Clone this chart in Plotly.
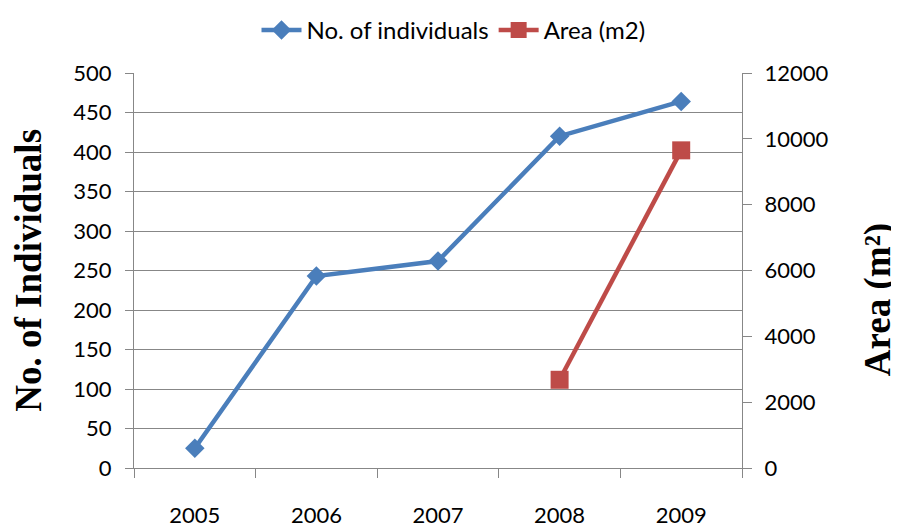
import plotly.graph_objects as go

years = ["2005", "2006", "2007", "2008", "2009"]
individuals = [25, 243, 262, 420, 464]
area_years = ["2008", "2009"]
area_m2 = [2680, 9650]

left_ticks = list(range(0, 501, 50))
right_ticks = list(range(0, 12001, 2000))
right_labels = [str(v) for v in right_ticks]

blue = "#4A7EBB"
red = "#BE4B48"
grid = "#878787"

fig = go.Figure()
fig.add_trace(go.Scatter(
    x=years, y=individuals, name="No. of individuals", mode="lines+markers",
    line=dict(color=blue, width=4.5),
    marker=dict(symbol="diamond", size=15, color=blue),
    yaxis="y",
))
fig.add_trace(go.Scatter(
    x=area_years, y=area_m2, name="Area (m2)", mode="lines+markers",
    line=dict(color=red, width=4.5),
    marker=dict(symbol="square", size=18, color=red),
    yaxis="y2",
))

fontfam = "Lato, 'Open Sans', sans-serif"
tickfont = dict(family=fontfam, size=22, color="#000000")
serif = "'Liberation Serif', 'Times New Roman', serif"

fig.update_layout(
    width=891, height=523,
    margin=dict(l=126, r=157, t=65, b=63, autoexpand=False),
    paper_bgcolor="white", plot_bgcolor="white",
    showlegend=True,
    legend=dict(orientation="h", x=0.5, xanchor="center", xref="container",
                y=1.0, yanchor="top", yref="container",
                font=dict(family=fontfam, size=24, color="#000"),
                itemwidth=40, traceorder="normal"),
    xaxis=dict(
        type="category", categoryorder="array", categoryarray=years,
        range=[-0.5, 4.5], showgrid=False,
        showline=True, linecolor=grid, linewidth=1,
        ticks="outside", tickson="boundaries", ticklen=9, tickcolor=grid,
        tickfont=tickfont, ticklabelstandoff=28,
    ),
    yaxis=dict(
        range=[0, 500], tickvals=left_ticks, showgrid=True, gridcolor=grid, gridwidth=1,
        showline=True, linecolor=grid, linewidth=1, zeroline=False,
        ticks="outside", ticklen=8, tickcolor=grid,
        tickfont=tickfont, ticklabelstandoff=9,
    ),
    yaxis2=dict(
        range=[0, 12000], tickvals=right_ticks, ticktext=right_labels,
        overlaying="y", side="right",
        showgrid=False, showline=True, linecolor=grid, linewidth=1, zeroline=False,
        ticks="outside", ticklen=9, tickcolor=grid,
        tickfont=tickfont, ticklabelstandoff=8,
    ),
    annotations=[
        dict(text="<b>No. of Individuals</b>", textangle=-90,
             x=-0.174, y=0.5, xref="paper", yref="paper",
             xanchor="center", yanchor="middle", showarrow=False,
             font=dict(family=serif, size=37, color="#000")),
        dict(text="<b>Area (m²)</b>", textangle=-90,
             x=1.2237, y=0.425, xref="paper", yref="paper",
             xanchor="center", yanchor="middle", showarrow=False,
             font=dict(family=serif, size=37, color="#000")),
    ],
)

fig.write_html("out.html")
